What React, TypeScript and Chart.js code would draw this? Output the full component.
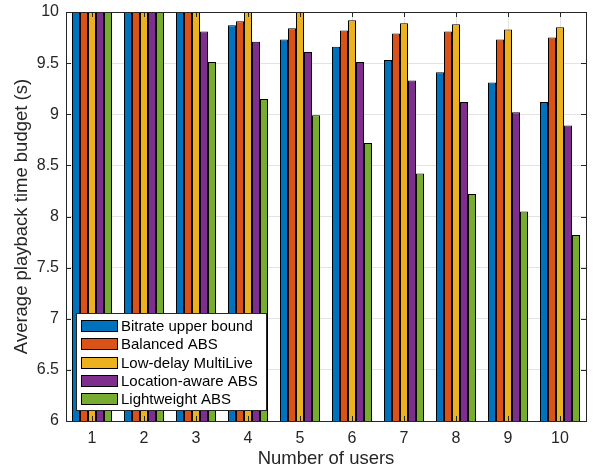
import React, { useEffect, useRef } from "react";
import { Chart, registerables } from "chart.js";

Chart.register(...registerables);

const categories = ["1", "2", "3", "4", "5", "6", "7", "8", "9", "10"];
const seriesNames = [
  "Bitrate upper bound",
  "Balanced ABS",
  "Low-delay MultiLive",
  "Location-aware ABS",
  "Lightweight ABS",
];
const bitrateUpper = [10, 10, 10, 9.87, 9.73, 9.66, 9.53, 9.41, 9.31, 9.12];
const balancedABS = [10, 10, 10, 9.91, 9.84, 9.82, 9.79, 9.81, 9.73, 9.75];
const lowDelay = [10, 10, 10, 10, 10, 9.92, 9.89, 9.88, 9.83, 9.85];
const locationAware = [10, 10, 9.81, 9.71, 9.61, 9.51, 9.33, 9.12, 9.02, 8.89];
const lightweight = [10, 10, 9.51, 9.15, 8.99, 8.72, 8.42, 8.22, 8.05, 7.82];
const seriesColors = ["#0072BD", "#D95319", "#EDB120", "#7E2F8E", "#77AC30"];
const yMin = 6;
const yMax = 10;
const yStep = 0.5;

const FONT = "'Liberation Sans', Arial, Helvetica, sans-serif";
const AXIS_COLOR = "#262626";

const axesPlugin = {
  id: "matlabAxes",
  afterDatasetsDraw(chart: any) {
    const { ctx, chartArea, scales } = chart;
    const { left, right, top, bottom } = chartArea;
    ctx.save();
    ctx.strokeStyle = AXIS_COLOR;
    ctx.lineWidth = 1;
    const tl = 5;
    ctx.beginPath();
    const y = scales.y;
    for (let v = yMin; v <= yMax + 1e-9; v += yStep) {
      const py = Math.round(y.getPixelForValue(v)) + 0.5;
      ctx.moveTo(left, py);
      ctx.lineTo(left + tl, py);
      ctx.moveTo(right, py);
      ctx.lineTo(right - tl, py);
    }
    const x = scales.x;
    for (let i = 0; i < categories.length; i++) {
      const px = Math.round(x.getPixelForValue(i)) + 0.5;
      ctx.moveTo(px, bottom);
      ctx.lineTo(px, bottom - tl);
      ctx.moveTo(px, top);
      ctx.lineTo(px, top + tl);
    }
    ctx.stroke();
    ctx.strokeRect(Math.round(left) + 0.5, Math.round(top) + 0.5, Math.round(right - left), Math.round(bottom - top));

    // legend
    const lx = Math.round(left) + 10;
    const lw = 190;
    const lh = 97;
    const ly = Math.round(bottom) - 11 - lh;
    ctx.fillStyle = "#ffffff";
    ctx.fillRect(lx, ly, lw, lh);
    ctx.strokeStyle = AXIS_COLOR;
    ctx.strokeRect(lx + 0.5, ly + 0.5, lw, lh);
    ctx.font = `15px ${FONT}`;
    ctx.textBaseline = "middle";
    ctx.textAlign = "left";
    for (let i = 0; i < seriesNames.length; i++) {
      const cy = ly + 13 + i * 18.25;
      ctx.fillStyle = seriesColors[i];
      ctx.fillRect(lx + 5, Math.round(cy - 6), 37, 12);
      ctx.strokeStyle = "#000000";
      ctx.strokeRect(lx + 5.5, Math.round(cy - 6) + 0.5, 36, 11);
      ctx.fillStyle = "#000000";
      ctx.fillText(seriesNames[i], lx + 45, cy + 1);
    }
    ctx.restore();
  },
};

export default function App() {
  const canvasRef = useRef<HTMLCanvasElement | null>(null);

  useEffect(() => {
    const canvas = canvasRef.current;
    if (!canvas) return;
    const seriesData = [bitrateUpper, balancedABS, lowDelay, locationAware, lightweight];
    const chart = new Chart(canvas, {
      type: "bar",
      data: {
        labels: categories,
        datasets: seriesNames.map((name, i) => ({
          label: name,
          data: seriesData[i],
          backgroundColor: seriesColors[i],
          borderColor: "#000000",
          borderWidth: 1,
          categoryPercentage: 0.77,
          barPercentage: 1,
        })),
      },
      options: {
        responsive: false,
        animation: false,
        devicePixelRatio: 1,
        layout: { padding: { top: 12, right: 7, left: 0, bottom: 0 } },
        plugins: {
          legend: { display: false },
          tooltip: { enabled: false },
        },
        scales: {
          x: {
            type: "category",
            offset: true,
            grid: { offset: false, color: "#e3e3e3", drawTicks: false },
            border: { display: false },
            ticks: {
              color: AXIS_COLOR,
              font: { family: FONT, size: 16 },
              padding: 8,
              maxRotation: 0,
            },
            title: {
              display: true,
              text: "Number of users",
              color: AXIS_COLOR,
              font: { family: FONT, size: 18.5 },
              padding: { top: 0, bottom: 0 },
            },
            afterFit: (scale: any) => {
              scale.height = 49;
              scale.paddingLeft = 0;
              scale.paddingRight = 0;
            },
          },
          y: {
            min: yMin,
            max: yMax,
            grid: { color: "#e3e3e3", drawTicks: false },
            border: { display: false },
            ticks: {
              stepSize: yStep,
              color: AXIS_COLOR,
              font: { family: FONT, size: 16 },
              padding: 7,
              callback: (v: any) => String(Number(v)),
            },
            title: {
              display: true,
              text: "Average playback time budget (s)",
              color: AXIS_COLOR,
              font: { family: FONT, size: 18.5 },
              padding: { top: 11, bottom: 0 },
            },
            afterFit: (scale: any) => {
              scale.width = 66;
              scale.paddingTop = 0;
              scale.paddingBottom = 0;
            },
          },
        },
      },
      plugins: [axesPlugin],
    });
    return () => chart.destroy();
  }, []);

  return (
    <div style={{ position: "fixed", left: 0, top: 0, width: 593, height: 470, background: "#ffffff" }}>
      <canvas ref={canvasRef} width={593} height={470} style={{ display: "block" }} />
    </div>
  );
}
